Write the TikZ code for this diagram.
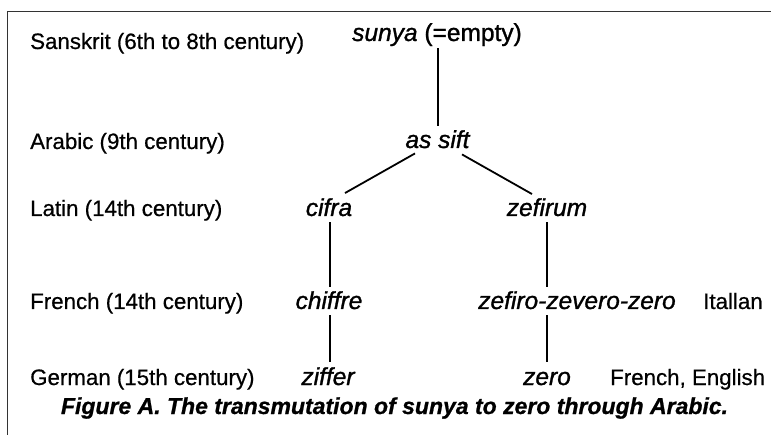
\documentclass[tikz,border=0pt]{standalone}
\usepackage{fontspec}
\setmainfont{Liberation Sans}
\begin{document}
\begin{tikzpicture}[x=1pt,y=-1pt,
  era/.style={anchor=base west, inner sep=0pt,
    font=\fontsize{22.3}{26}\selectfont\addfontfeature{FakeBold=0.6}},
  word/.style={anchor=base, inner sep=0pt,
    font=\fontsize{24.5}{29}\selectfont\itshape\addfontfeature{FakeBold=1.2}},
  link/.style={line width=1.8pt, black},
  frame/.style={line width=1pt, black!80}]
\useasboundingbox (0,0) rectangle (771,435);
% open frame: left and top edges only
\draw[frame] (7.5,435) -- (7.5,12) -- (771,12);

% period labels
\node[era] (sanskrit) at (30,49)  {Sanskrit (6th to 8th century)};
\node[era] (arabic)   at (30,149) {Arabic (9th century)};
\node[era] (latin)    at (30,216) {Latin (14th century)};
\node[era] (french)   at (30,309) {French (14th century)};
\node[era] (german)   at (30,385) {German (15th century)};

% word forms
\node[word] (sunya)   at (437,41)   {sunya {\upshape(=empty)}};
\node[word] (assift)  at (437.5,148) {as sift};
\node[word] (cifra)   at (329,216)  {cifra};
\node[word] (zefirum) at (547,216)  {zefirum};
\node[word] (chiffre) at (329,309)  {chiffre};
\node[word] (zefiro)  at (577,309)  {zefiro-zevero-zero};
\node[word] (ziffer)  at (328,385)  {ziffer};
\node[word] (zero)    at (547,385)  {zero};
\node[era] (italian)  at (703,309)  {Itallan};
\node[era] (frenEng)  at (610,385)  {French, English};

% caption
\node[anchor=base, inner sep=0pt, font=\fontsize{23}{27}\selectfont\bfseries\itshape\addfontfeature{FakeBold=0.8}]
  (caption) at (394.5,414) {Figure A. The transmutation of sunya to zero through Arabic.};

% derivation lines
\draw[link] ([xshift=1pt,yshift=-2pt]sunya.south) -- ([xshift=0.5pt,yshift=4pt]assift.north);
\draw[link] ([xshift=-22.5pt,yshift=-5pt]assift.south) -- ([xshift=16pt,yshift=5pt]cifra.north);
\draw[link] ([xshift=24.5pt,yshift=-6pt]assift.south) -- ([xshift=-15pt,yshift=4pt]zefirum.north);
\draw[link] ([xshift=1pt,yshift=-6pt]cifra.south) -- ([xshift=1pt,yshift=4pt]chiffre.north);
\draw[link] ([xshift=1pt,yshift=-6pt]chiffre.south) -- ([xshift=2pt,yshift=5pt]ziffer.north);
\draw[link] ([yshift=-6pt]zefirum.south) -- ([xshift=-30pt,yshift=4pt]zefiro.north);
\draw[link] ([xshift=-30pt,yshift=-6pt]zefiro.south) -- ([yshift=10pt]zero.north);
\end{tikzpicture}
\end{document}
